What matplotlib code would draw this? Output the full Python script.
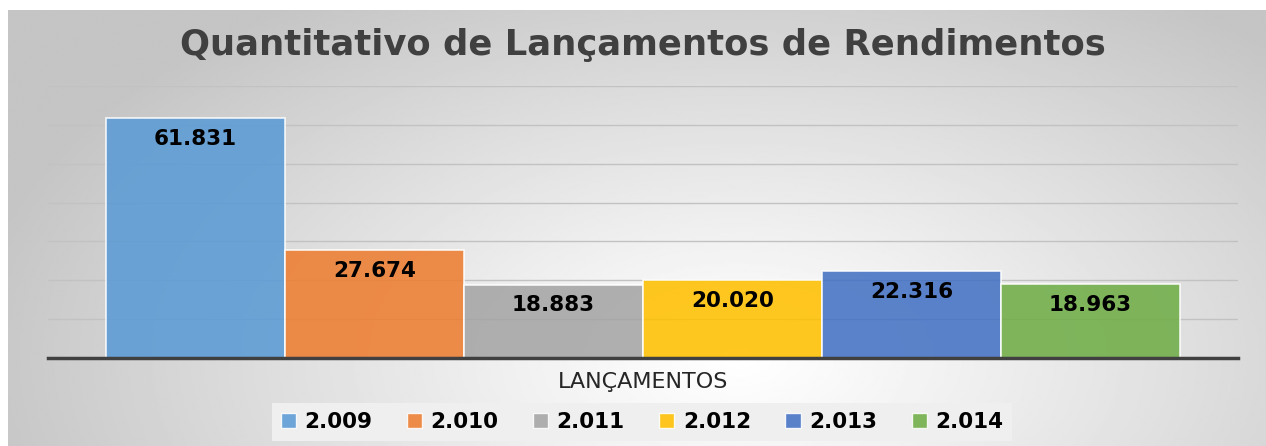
import matplotlib
matplotlib.use('Agg')
import matplotlib.pyplot as plt
import numpy as np

# chart data
series = ['2.009', '2.010', '2.011', '2.012', '2.013', '2.014']
values = [61831, 27674, 18883, 20020, 22316, 18963]
category = 'LANÇAMENTOS'
title = 'Quantitativo de Lançamentos de Rendimentos'

colors = ['#5B9BD5', '#ED7D31', '#A5A5A5', '#FFC000', '#4472C4', '#70AD47']

W, H = 1266, 446
fig = plt.figure(figsize=(W / 100, H / 100), dpi=100)
fig.patch.set_facecolor('white')

# --- background: radial grey gradient inside the chart frame ---
fx0, fy1 = 8 / W, (H - 10) / H
bg = fig.add_axes([fx0, 0, 1 - fx0, fy1], zorder=-5)
yy, xx = np.mgrid[0:1:200j, 0:1:600j]
r = np.sqrt(((xx - 0.58) / 0.62) ** 2 + ((yy - 0.2) / 1.0) ** 2)
shade = 1.0 - 0.23 * np.clip(r, 0, 1) ** 1.1
bg.imshow(shade, cmap='gray', vmin=0, vmax=1, origin='lower',
          extent=[0, 1, 0, 1], aspect='auto', interpolation='bilinear')
bg.axis('off')

# --- main plot area ---
ax = fig.add_axes([48 / W, 88 / H, (1238 - 48) / W, (358 - 86) / H])
ax.patch.set_alpha(0)

x = np.arange(len(values))
bars = ax.bar(x, values, width=1.0, color=colors, alpha=0.88,
              edgecolor='white', linewidth=1.2, zorder=3)

ax.set_xlim(-0.824, len(values) - 1 + 0.824)
ax.set_ylim(0, 70000)
ax.set_yticks(np.arange(0, 70001, 10000))
ax.yaxis.grid(True, color='#c2c2c2', linewidth=1.0, zorder=0)
ax.set_axisbelow(True)
ax.tick_params(left=False, bottom=False, labelleft=False, labelbottom=False)
for side in ['left', 'right', 'top']:
    ax.spines[side].set_visible(False)
ax.spines['bottom'].set_color('#404040')
ax.spines['bottom'].set_linewidth(2.5)
ax.spines['bottom'].set_zorder(4)

for b, v in zip(bars, values):
    ax.annotate(f'{v:,}'.replace(',', '.'),
                xy=(b.get_x() + b.get_width() / 2, v),
                xytext=(0, -15), textcoords='offset points',
                ha='center', va='center', fontsize=15.5, fontweight='bold',
                color='black', zorder=5)

fig.text(643 / W, (H - 45) / H, title, ha='center', va='center',
         fontsize=25.5, fontweight='bold', color='#404040')
fig.text(643 / W, (H - 382) / H, category, ha='center', va='center',
         fontsize=16, color='#262626')

handles = [plt.Rectangle((0, 0), 1, 1, facecolor=c, alpha=0.88,
                         edgecolor='white') for c in colors]
leg = fig.legend(handles, series, loc='center', ncol=6,
                 bbox_to_anchor=(642 / W, (H - 422) / H),
                 frameon=True, fancybox=False, facecolor='#efefef',
                 edgecolor='none', framealpha=1.0,
                 handlelength=0.7, handleheight=0.7, handletextpad=0.4,
                 columnspacing=1.6, borderpad=0.4,
                 prop={'weight': 'bold', 'size': 15.5})
for t in leg.get_texts():
    t.set_color('black')

fig.savefig('out.png', dpi=100)
